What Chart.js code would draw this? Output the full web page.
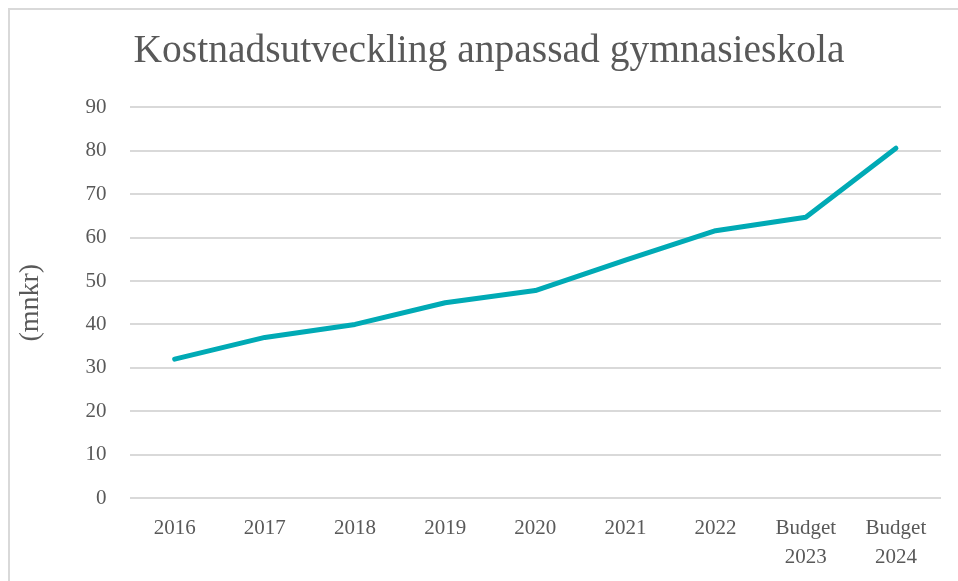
<!DOCTYPE html>
<html>
<head>
<meta charset="utf-8">
<script src="https://cdn.jsdelivr.net/npm/chart.js@4"></script>
<style>
  html, body { margin: 0; padding: 0; background: #fff; }
  .wrap { position: relative; width: 958px; height: 581px; overflow: hidden; }
  .frame { position: absolute; left: 8px; top: 8px; width: 1000px; height: 620px; border: 2px solid #d9d9d9; box-sizing: border-box; }
  canvas { position: absolute; left: 0; top: 0; }
</style>
</head>
<body>
<div class="wrap">
  <div class="frame"></div>
  <canvas id="chart" width="958" height="592"></canvas>
</div>
<script>
const categories = ['2016', '2017', '2018', '2019', '2020', '2021', '2022', ['Budget', '2023'], ['Budget', '2024']]
const costs = [32, 37, 40, 45, 47.8, 54.8, 61.6, 64.7, 80.6]
const yTicks = [0, 10, 20, 30, 40, 50, 60, 70, 80, 90]

const textColor = '#595959'
const serif = "'Liberation Serif', 'DejaVu Serif', serif"

const ctx = document.getElementById('chart').getContext('2d')
new Chart(ctx, {
    type: 'line',
    data: {
        labels: categories,
        datasets: [{
            label: 'Kostnad',
            data: costs,
            borderColor: '#00aab5',
            borderWidth: 5,
            borderCapStyle: 'round',
            borderJoinStyle: 'round',
            pointRadius: 0,
            tension: 0,
            fill: false,
        }]
    },
    options: {
        responsive: false,
        animation: false,
        layout: {
            // left padding also centres the title where the original has it
            padding: { left: 37, right: 17, top: 18, bottom: 12 }
        },
        scales: {
            y: {
                min: yTicks[0],
                max: yTicks[yTicks.length - 1],
                afterBuildTicks: (axis) => { axis.ticks = yTicks.map(v => ({ value: v })) },
                grid: { color: '#d9d9d9', lineWidth: 2, drawTicks: false },
                border: { display: false },
                ticks: { color: textColor, font: { family: serif, size: 21 }, padding: 23 },
                title: {
                    display: true,
                    text: '(mnkr)',
                    color: textColor,
                    font: { family: serif, size: 28 },
                    padding: { top: -23, bottom: 15 }
                }
            },
            x: {
                offset: true,
                grid: { display: false },
                border: { display: false },
                ticks: { color: textColor, font: { family: serif, size: 21, lineHeight: 1.38 }, padding: 8, maxRotation: 0, autoSkip: false }
            }
        },
        plugins: {
            legend: { display: false },
            tooltip: { enabled: false },
            title: {
                display: true,
                text: 'Kostnadsutveckling anpassad gymnasieskola',
                color: textColor,
                font: { family: serif, size: 39.5, weight: 'normal' },
                padding: { top: 10, bottom: 32 }
            }
        }
    }
})
</script>
</body>
</html>
